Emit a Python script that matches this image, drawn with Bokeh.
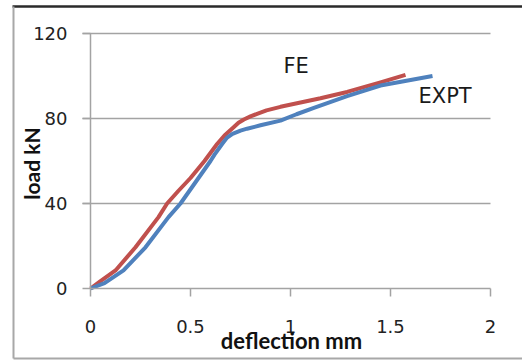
from bokeh.plotting import figure
from bokeh.models import Label, FixedTicker, Range1d, LinearAxis
from bokeh.embed import file_html
from bokeh.resources import INLINE

# ---- data ----
fe_x = [0, 0.05, 0.125, 0.225, 0.34, 0.383, 0.44, 0.5, 0.57, 0.633, 0.67, 0.717, 0.74, 0.767, 0.8, 0.833, 0.88, 0.95, 1.05, 1.15, 1.283, 1.45, 1.575]
fe_y = [0, 3.5, 8.5, 19.4, 33.6, 40, 46, 52, 60, 68, 72, 76, 78, 79.5, 81, 82.2, 83.8, 85.5, 87.5, 89.5, 92.5, 97, 100.5]

expt_x = [0, 0.07, 0.165, 0.275, 0.39, 0.45, 0.54, 0.6, 0.62, 0.658, 0.683, 0.71, 0.75, 0.783, 0.85, 0.95, 1.03, 1.117, 1.283, 1.45, 1.71]
expt_y = [0, 2.5, 8.5, 19.4, 33.6, 40, 52, 60, 63, 68, 71, 72.8, 74.3, 75.2, 76.8, 79, 82, 85, 90.5, 95.5, 100]

x_ticks = [0, 0.5, 1, 1.5, 2]
y_ticks = [0, 40, 80, 120]
x_title = "deflection mm"
y_title = "load kN"
series_names = ["FE", "EXPT"]

RED = "#C0504D"
BLUE = "#4F81BD"
GRID = "#A3A3A3"

# the frame covers the whole canvas; the chart's own axes sit at x=0 / y=0
p = figure(width=522, height=360, output_backend="svg", toolbar_location=None,
           x_range=Range1d(-0.45, 2.16), y_range=Range1d(-33.88, 135.53),
           x_axis_location=None, y_axis_location=None,
           min_border=0, min_border_left=0, min_border_right=0,
           min_border_top=0, min_border_bottom=0)
p.outline_line_color = None
p.background_fill_color = "white"
p.border_fill_color = "white"
p.xgrid.visible = False
p.ygrid.visible = False

xaxis = LinearAxis(fixed_location=0, bounds=(0, 2), ticker=FixedTicker(ticks=x_ticks))
yaxis = LinearAxis(fixed_location=0, bounds=(0, 120), ticker=FixedTicker(ticks=y_ticks))
xaxis.major_label_overrides = {0: "0", 0.5: "0.5", 1: "1", 1.5: "1.5", 2: "2"}
for ax in (xaxis, yaxis):
    ax.axis_line_color = GRID
    ax.axis_line_width = 1.5
    ax.major_tick_line_color = GRID
    ax.major_tick_line_width = 1.5
    ax.major_tick_in = 0
    ax.major_tick_out = 8
    ax.minor_tick_line_color = None
    ax.major_label_text_font = "DejaVu Sans"
    ax.major_label_text_font_size = "18px"
    ax.major_label_text_color = "#222222"
xaxis.major_label_standoff = 23
yaxis.major_label_standoff = 15
p.add_layout(xaxis, "below")
p.add_layout(yaxis, "left")

# horizontal gridlines (from the y-axis tick end to the right edge of the plot)
grid_y = y_ticks[1:]
p.segment(x0=[-0.04] * len(grid_y), x1=[x_ticks[-1]] * len(grid_y), y0=grid_y, y1=grid_y,
          line_color=GRID, line_width=1.5)

# series
p.line(fe_x, fe_y, line_color=RED, line_width=4, line_join="round")
p.line(expt_x, expt_y, line_color=BLUE, line_width=4, line_join="round")

# series labels
p.add_layout(Label(x=0.965, y=104.8, text=series_names[0], text_font="DejaVu Sans",
                   text_font_size="21px", text_color="#1a1a1a", text_baseline="alphabetic"))
p.add_layout(Label(x=1.64, y=90.5, text=series_names[1], text_font="DejaVu Sans",
                   text_font_size="21px", text_color="#1a1a1a", text_baseline="alphabetic"))

# axis titles
p.add_layout(Label(x=1.005, y=-24.4, text=x_title, text_font="Lato", text_font_style="bold",
                   text_font_size="22px", text_color="#111111", text_align="center",
                   text_baseline="alphabetic"))
p.add_layout(Label(x=-0.295, y=58.8, text=y_title, text_font="Lato", text_font_style="bold",
                   text_font_size="21px", text_color="#111111", text_align="center",
                   text_baseline="middle", angle=1.5708))

# outer chart-area border
fl, fr, ft, fb = -0.385, 2.16, 132.71, -32.94
p.segment(x0=[fl - 0.005], y0=[ft], x1=[fr], y1=[ft], line_color="#2a2a2a", line_width=2.5)
p.segment(x0=[fl, fl], y0=[ft, fb], x1=[fl, fr], y1=[fb, fb], line_color="#A8A8A8", line_width=2)

open("out.html", "w").write(file_html(p, INLINE))
